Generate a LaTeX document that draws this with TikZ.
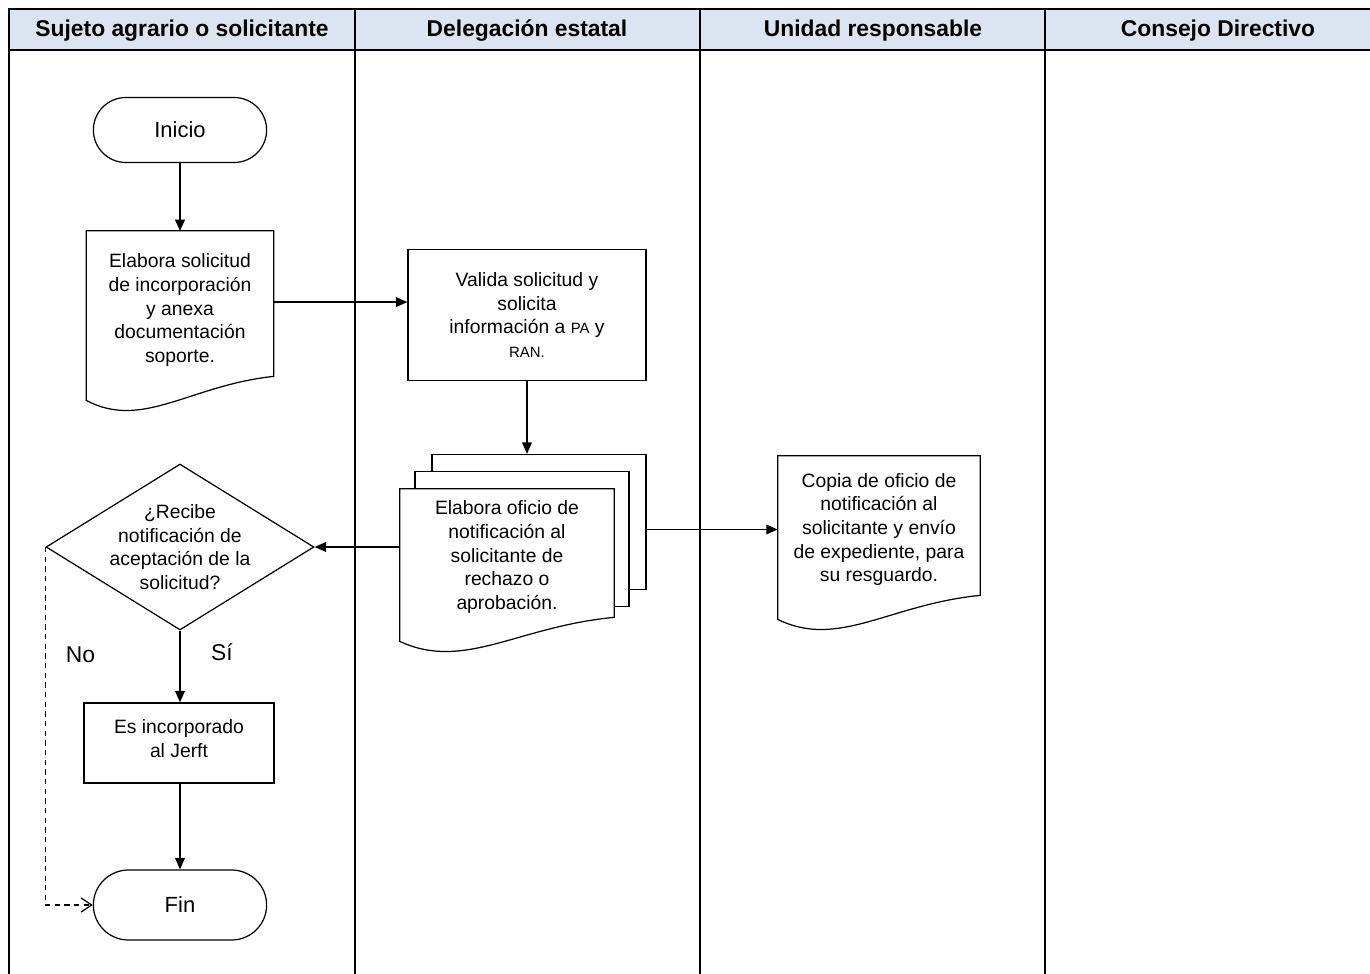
\documentclass[tikz,border=0pt]{standalone}
\usepackage{fontspec}
\setmainfont{Liberation Sans}
\usepackage{tikz}
\usetikzlibrary{positioning,shapes.geometric,shapes.misc,arrows.meta,backgrounds,calc}

\definecolor{headblue}{RGB}{219,229,241}

\tikzset{
    lane/.style={line width=1.2pt},
    flow/.style={line width=0.9pt, -{Triangle[length=6.5pt,width=5.5pt]}},
    terminal/.style={rounded rectangle, draw, line width=0.7pt, minimum width=3.7cm, minimum height=1.3cm, font=\fontsize{12.5}{15}\selectfont},
    process/.style={rectangle, draw, line width=0.7pt, align=center, font=\fontsize{11}{13.5}\selectfont},
    doc/.style={rectangle, align=center, inner sep=2pt, font=\fontsize{11}{13.5}\selectfont},
    sheet/.style={rectangle, draw, fill=white, line width=0.7pt, minimum width=4.28cm, minimum height=2.7cm},
    decision/.style={diamond, draw, line width=0.7pt, align=center, inner sep=-25pt, minimum width=5.36cm, minimum height=3.32cm, font=\fontsize{11}{13.5}\selectfont},
    lanehead/.style={font=\fontsize{13}{15}\selectfont\bfseries},
    branch/.style={font=\fontsize{13}{15}\selectfont}
}

% contorno de documento con borde ondulado
\newcommand{\docframe}[2]{%
    \draw[fill=white, line width=0.7pt] ($(#1.north west)+(0,-#2)$) -- ($(#1.north east)+(0,-#2)$) -- (#1.south east)
        .. controls ($(#1.south west)!0.55!(#1.south east)+(0,9)$) and ($(#1.south west)!0.3!(#1.south east)+(0,54)$)
        .. ($(#1.south west)+(0,24)$) -- cycle;}

\begin{document}
\begin{tikzpicture}[x=0.02cm, y=-0.02cm]
    \useasboundingbox (0,0) rectangle (1370,974);
    \clip (0,0) rectangle (1370,974);

    % carriles
    \fill[headblue] (9,9) rectangle (1390,50);
    \draw[lane] (9,990) -- (9,9) -- (1390,9);
    \draw[lane] (9,50) -- (1390,50);
    \foreach \x in {355,700,1045} {
        \draw[lane] (\x,9) -- (\x,990);
    }
    \node[lanehead] (h1) at (182,31) {Sujeto agrario o solicitante};
    \node[lanehead] (h2) at (527,31) {Delegación estatal};
    \node[lanehead] (h3) at (873,31) {Unidad responsable};
    \node[lanehead] (h4) at (1218,31) {Consejo Directivo};

    % nodos
    \node[terminal] (inicio) at (180,130) {Inicio};
    \node[doc, minimum width=3.74cm, minimum height=2.64cm] (elabora) at (180,310)
        {Elabora solicitud\\de incorporación\\y anexa\\documentación\\soporte.};
    \node[process, minimum width=4.76cm, minimum height=2.62cm] (valida) at (527,315)
        {Valida solicitud y\\solicita\\información a {\fontsize{8.5}{10}\selectfont PA} y\\{\fontsize{8.5}{10}\selectfont RAN.}};
    \node[doc, minimum width=4.28cm, minimum height=2.4cm] (oficio) at (507,557)
        {Elabora oficio de\\notificación al\\solicitante de\\rechazo o\\aprobación.};
    \node[doc, minimum width=4.04cm, minimum height=2.62cm] (copia) at (879,529.5)
        {Copia de oficio de\\notificación al\\solicitante y envío\\de expediente, para\\su resguardo.};
    \node[decision] (recibe) at (180,547)
        {¿Recibe\\notificación de\\aceptación de la\\solicitud?};
    \node[process, minimum width=3.8cm, minimum height=1.6cm] (incorporado) at (179,743)
        {Es incorporado\\al Jerft\\[-8pt]\mbox{}};
    \node[terminal, minimum height=1.4cm] (fin) at (180,905) {Fin};

    \begin{scope}[on background layer]
        \node[sheet] (multi3) at (539,522) {};
        \node[sheet] (multi2) at (522,539) {};
        \docframe{oficio}{8}
        \docframe{elabora}{13}
        \docframe{copia}{8}
    \end{scope}

    % conectores
    \draw[flow] (inicio) -- (elabora.north |- 0,231);
    \draw[flow] ([yshift=4.5pt]elabora.east) -- ([yshift=4.5pt]elabora.east -| valida.west);
    \draw[flow] (valida.south) -- (valida.south |- multi3.north);
    \draw[flow] (copia.west -| multi3.east) -- (copia.west);
    \draw[flow] (recibe.east -| oficio.west) -- (recibe.east);
    \draw[flow] (recibe.south) -- node[pos=0.3, right=14pt, branch] {Sí} (recibe.south |- incorporado.north);
    \draw[flow] (incorporado.south -| fin.north) -- (fin.north);
    \draw[line width=0.7pt, dash pattern=on 3pt off 2.5pt, -{Straight Barb[length=6pt,width=8pt]}]
        (recibe.west) |- node[pos=0.15, right=8pt, branch] {No} (fin.west);
\end{tikzpicture}
\end{document}
